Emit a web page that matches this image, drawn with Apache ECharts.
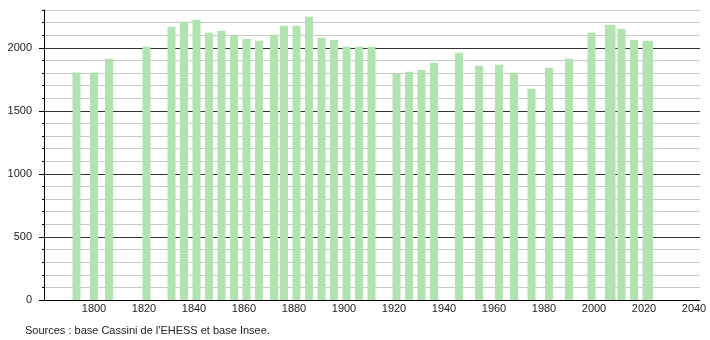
<!DOCTYPE html>
<html><head><meta charset="utf-8">
<script src="https://cdn.jsdelivr.net/npm/echarts@6/dist/echarts.min.js"></script>
<style>html,body{margin:0;padding:0;background:#fff}#c{width:710px;height:340px}</style>
</head><body><div id="c"></div>
<script>
const years = [1793,1800,1806,1821,1831,1836,1841,1846,1851,1856,1861,1866,1872,1876,1881,1886,1891,1896,1901,1906,1911,1921,1926,1931,1936,1946,1954,1962,1968,1975,1982,1990,1999,2006,2007,2011,2016,2021,2022];
const population = [1804,1804,1913,2008,2167,2206,2222,2119,2135,2095,2071,2056,2103,2175,2175,2246,2079,2063,2008,2008,2008,1794,1810,1825,1881,1960,1857,1865,1802,1675,1841,1913,2119,2183,2180,2151,2063,2056,2054];
const xTickLabels = [1800,1820,1840,1860,1880,1900,1920,1940,1960,1980,2000,2020,2040];
const yTickLabels = [0,500,1000,1500,2000];
const sourceText = "Sources : base Cassini de l'EHESS et base Insee.";

const font = '"Liberation Sans", Arial, Helvetica, sans-serif';
const chart = echarts.init(document.getElementById('c'), null, {renderer: 'canvas'});
chart.setOption({
  animation: false,
  title: {
    text: sourceText, left: 20, top: 320,
    textStyle: {fontFamily: font, fontSize: 11, fontWeight: 'normal', color: '#222'}
  },
  grid: {left: 44, right: 10, top: 10, bottom: 40, containLabel: false},
  xAxis: {
    type: 'value', min: 1780, max: 2042.4, interval: 20,
    axisLine: {show: true, lineStyle: {color: '#000', width: 1}},
    axisTick: {show: false},
    splitLine: {show: false},
    axisLabel: {customValues: xTickLabels, formatter: v => String(v), margin: 3, fontFamily: font, fontSize: 11, color: '#222'}
  },
  yAxis: [
    {
      type: 'value', min: 0, max: 2300, interval: 100,
      axisLine: {show: true, lineStyle: {color: '#000', width: 1}},
      axisTick: {show: true, length: 2, lineStyle: {color: '#000'}},
      axisLabel: {show: false},
      splitLine: {show: true, lineStyle: {color: ['#333', '#c8c8c8', '#c8c8c8', '#c8c8c8', '#c8c8c8'], width: 1}}
    },
    {
      type: 'value', min: 0, max: 2300, position: 'left',
      axisLine: {show: false},
      axisTick: {show: true, length: 5, customValues: yTickLabels, lineStyle: {color: '#000'}},
      axisLabel: {customValues: yTickLabels, formatter: v => String(v), margin: 12, fontFamily: font, fontSize: 11, color: '#222'},
      splitLine: {show: false}
    }
  ],
  series: [{
    type: 'bar',
    yAxisIndex: 0,
    barWidth: 8,
    itemStyle: {color: '#b0e3b0'},
    data: years.map((y, i) => [y, population[i]])
  }]
});
</script></body></html>
